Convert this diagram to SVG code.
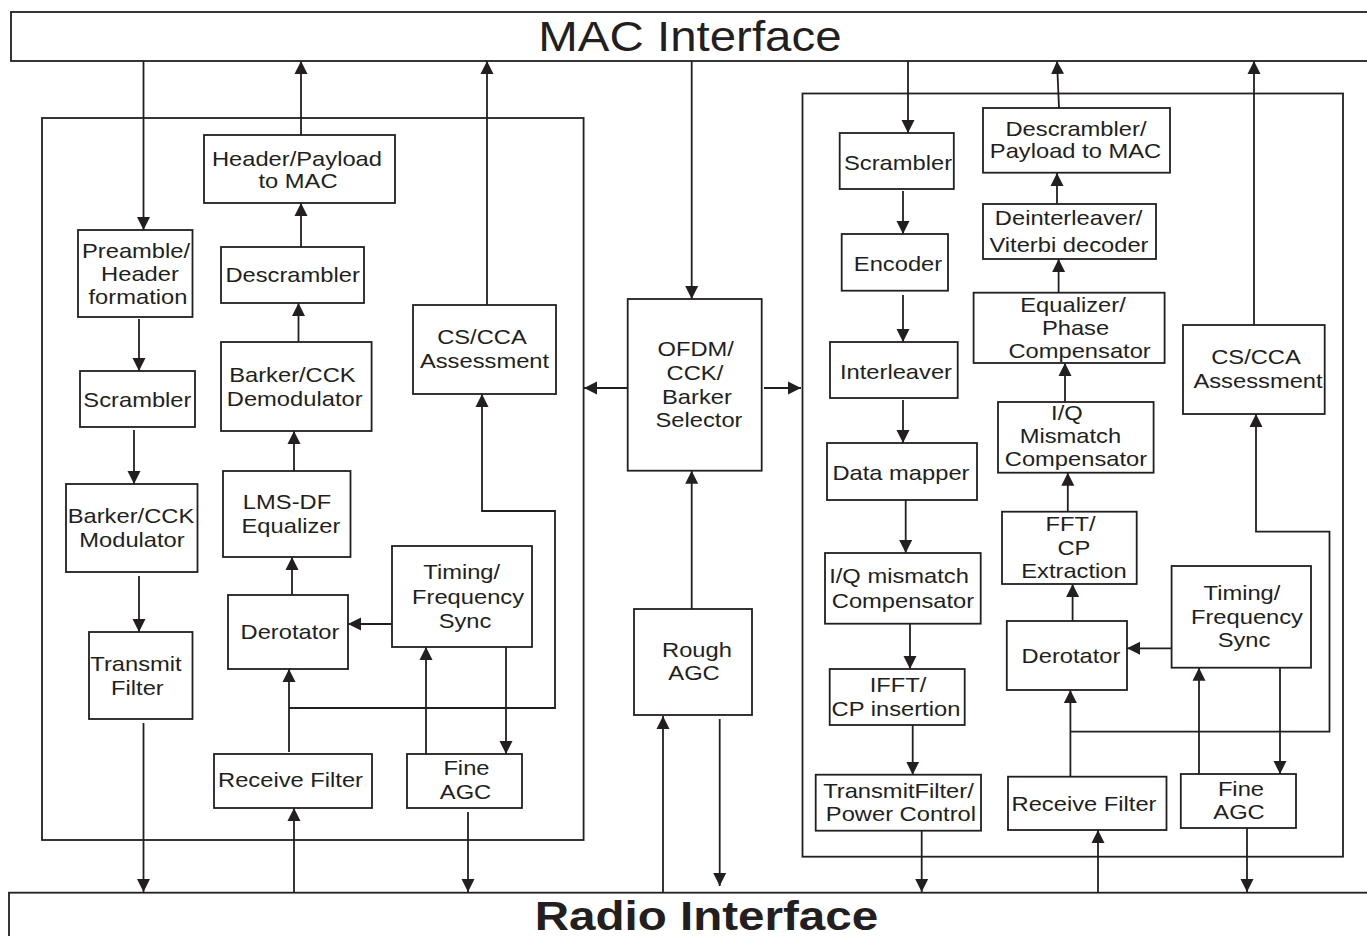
<svg xmlns="http://www.w3.org/2000/svg" width="1367" height="936" viewBox="0 0 1367 936">
<style>
rect{fill:#fff;stroke:#231f20;stroke-width:1.8}
.c line,.c polyline{stroke:#231f20;stroke-width:1.8;fill:none}
.a{marker-end:url(#ah)}
.t{font-family:"Liberation Sans",Arial,Helvetica,sans-serif;font-size:21px;fill:#231f20;text-anchor:middle}
</style>
<defs>
<marker id="ah" markerUnits="userSpaceOnUse" markerWidth="14" markerHeight="14" refX="13" refY="7" orient="auto" viewBox="0 0 14 14">
<path d="M0,0.5 L13,7 L0,13.5 z" fill="#231f20"/>
</marker>
</defs>
<rect x="0" y="0" width="1367" height="936" style="fill:#fff;stroke:none"/>
<g id="mac">
<rect x="11" y="12" width="1370" height="49"/>
<text class="t" transform="scale(1.13,1)" style="font-size:42px"><tspan x="610.6" y="50.7">MAC Interface</tspan></text>
</g>
<g id="radio">
<rect x="9" y="892.7" width="1370" height="60"/>
<text class="t" transform="scale(1.16,1)" style="font-size:41px;font-weight:bold"><tspan x="609" y="930">Radio Interface</tspan></text>
</g>
<g id="left-block"><rect x="42" y="118" width="541.6" height="722" style="fill:none"/></g>
<g id="right-block"><rect x="802.5" y="93.5" width="540.5" height="763.2" style="fill:none"/></g>

<g class="c" id="connectors">
<line class="a" x1="143.5" y1="61" x2="143.5" y2="230"/>
<line class="a" x1="139" y1="319" x2="139" y2="371"/>
<line class="a" x1="134" y1="430" x2="134" y2="484"/>
<line class="a" x1="139" y1="576" x2="139" y2="632"/>
<line class="a" x1="143.5" y1="723" x2="143.5" y2="892"/>
<line class="a" x1="301" y1="135" x2="301" y2="61"/>
<line class="a" x1="301" y1="247" x2="301" y2="203"/>
<line class="a" x1="298.5" y1="342" x2="298.5" y2="303"/>
<line class="a" x1="294" y1="471" x2="294" y2="431"/>
<line class="a" x1="292" y1="595" x2="292" y2="557"/>
<line class="a" x1="289" y1="752" x2="289" y2="669"/>
<line class="a" x1="294" y1="892" x2="294" y2="808"/>
<line class="a" x1="487" y1="305" x2="487" y2="61"/>
<polyline class="a" points="289,708 555,708 555,511 482,511 482,394"/>
<line class="a" x1="392" y1="624" x2="348" y2="624"/>
<line class="a" x1="426" y1="754" x2="426" y2="647"/>
<line class="a" x1="506" y1="647" x2="506" y2="754"/>
<line class="a" x1="468" y1="812" x2="468" y2="892"/>

<line class="a" x1="691.7" y1="61" x2="691.7" y2="299"/>
<line class="a" x1="627.7" y1="388" x2="584" y2="388"/>
<line class="a" x1="764" y1="388" x2="801" y2="388"/>
<line class="a" x1="691.7" y1="609" x2="691.7" y2="470.7"/>
<line class="a" x1="663" y1="892" x2="663" y2="716"/>
<line class="a" x1="719.7" y1="719" x2="719.7" y2="886"/>

<line class="a" x1="908" y1="61" x2="908" y2="133"/>
<line class="a" x1="903" y1="191" x2="903" y2="234"/>
<line class="a" x1="903" y1="295" x2="903" y2="342"/>
<line class="a" x1="903" y1="400" x2="903" y2="443"/>
<line class="a" x1="905.7" y1="500" x2="905.7" y2="553"/>
<line class="a" x1="910" y1="624" x2="910" y2="669"/>
<line class="a" x1="912.7" y1="725" x2="912.7" y2="774.7"/>
<line class="a" x1="921.7" y1="830.7" x2="921.7" y2="892"/>
<line class="a" x1="1059" y1="108" x2="1057" y2="61"/>
<line class="a" x1="1057" y1="204" x2="1057" y2="173"/>
<line class="a" x1="1058.6" y1="292.7" x2="1058.6" y2="259"/>
<line class="a" x1="1065" y1="405" x2="1065" y2="363"/>
<line class="a" x1="1067.8" y1="511.7" x2="1067.8" y2="472.7"/>
<line class="a" x1="1072.6" y1="621" x2="1072.6" y2="584"/>
<line class="a" x1="1070.4" y1="777" x2="1070.4" y2="690"/>
<line class="a" x1="1098" y1="892" x2="1098" y2="830"/>
<line class="a" x1="1254" y1="325" x2="1254" y2="61"/>
<polyline class="a" points="1070.4,731.7 1329.5,731.7 1329.5,531.7 1256,531.7 1256,414"/>
<line class="a" x1="1171.6" y1="648.3" x2="1127" y2="648.3"/>
<line class="a" x1="1199" y1="774" x2="1199" y2="667.7"/>
<line class="a" x1="1280" y1="667.7" x2="1280" y2="774"/>
<line class="a" x1="1247" y1="828" x2="1247" y2="892"/>
</g>

<g id="preamble"><rect x="78" y="230" width="114.5" height="87"/>
<text class="t" transform="scale(1.13,1)"><tspan x="120.4" y="258.3">Preamble/</tspan><tspan x="123.9" y="281">Header</tspan><tspan x="122.1" y="304.3">formation</tspan></text></g>
<g id="scrambler-l"><rect x="80" y="371" width="115" height="56"/>
<text class="t" transform="scale(1.13,1)"><tspan x="121.6" y="407.3">Scrambler</tspan></text></g>
<g id="modulator"><rect x="66" y="484" width="131.5" height="88"/>
<text class="t" transform="scale(1.13,1)"><tspan x="115.9" y="522.7">Barker/CCK</tspan><tspan x="116.8" y="546.7">Modulator</tspan></text></g>
<g id="transmit-filter"><rect x="89" y="632" width="103.5" height="87"/>
<text class="t" transform="scale(1.13,1)"><tspan x="120.4" y="670.7">Transmit</tspan><tspan x="121.6" y="694.7">Filter</tspan></text></g>
<g id="header-payload"><rect x="204" y="135" width="191" height="68"/>
<text class="t" transform="scale(1.13,1)"><tspan x="262.8" y="165.7">Header/Payload</tspan><tspan x="263.7" y="188.3">to MAC</tspan></text></g>
<g id="descrambler-l"><rect x="221" y="247" width="143" height="56"/>
<text class="t" transform="scale(1.13,1)"><tspan x="259" y="281.7">Descrambler</tspan></text></g>
<g id="demodulator"><rect x="221" y="342" width="150.6" height="89"/>
<text class="t" transform="scale(1.13,1)"><tspan x="258.8" y="381.7">Barker/CCK</tspan><tspan x="260.8" y="406">Demodulator</tspan></text></g>
<g id="lms"><rect x="223" y="471" width="127.5" height="86"/>
<text class="t" transform="scale(1.13,1)"><tspan x="254" y="509.3">LMS-DF</tspan><tspan x="257.5" y="532.7">Equalizer</tspan></text></g>
<g id="derotator-l"><rect x="228" y="595" width="120" height="74"/>
<text class="t" transform="scale(1.13,1)"><tspan x="256.6" y="638.7">Derotator</tspan></text></g>
<g id="timing-l"><rect x="392" y="546" width="140" height="101"/>
<text class="t" transform="scale(1.13,1)"><tspan x="408.6" y="579.3">Timing/</tspan><tspan x="414.2" y="604">Frequency</tspan><tspan x="411.5" y="627.7">Sync</tspan></text></g>
<g id="cscca-l"><rect x="413" y="305" width="143" height="89"/>
<text class="t" transform="scale(1.13,1)"><tspan x="426.5" y="344.3">CS/CCA</tspan><tspan x="428.8" y="368.3">Assessment</tspan></text></g>
<g id="receive-l"><rect x="214" y="754" width="158" height="54"/>
<text class="t" transform="scale(1.13,1)"><tspan x="257.1" y="787.3">Receive Filter</tspan></text></g>
<g id="fineagc-l"><rect x="407" y="754" width="115" height="54"/>
<text class="t" transform="scale(1.13,1)"><tspan x="412.8" y="775.3">Fine</tspan><tspan x="412" y="799.3">AGC</tspan></text></g>

<g id="selector"><rect x="627.7" y="299" width="134" height="171.7"/>
<text class="t" transform="scale(1.13,1)"><tspan x="615.7" y="356">OFDM/</tspan><tspan x="615" y="380">CCK/</tspan><tspan x="616.8" y="404">Barker</tspan><tspan x="618.6" y="427.3">Selector</tspan></text></g>
<g id="rough-agc"><rect x="634" y="609" width="118" height="106"/>
<text class="t" transform="scale(1.13,1)"><tspan x="616.8" y="657.3">Rough</tspan><tspan x="614.2" y="680">AGC</tspan></text></g>

<g id="scrambler-r"><rect x="839.7" y="133" width="114.1" height="56"/>
<text class="t" transform="scale(1.13,1)"><tspan x="794.7" y="170">Scrambler</tspan></text></g>
<g id="encoder"><rect x="841.7" y="234" width="106.3" height="56.7"/>
<text class="t" transform="scale(1.13,1)"><tspan x="794.7" y="270.7">Encoder</tspan></text></g>
<g id="interleaver"><rect x="830" y="342" width="127.7" height="56"/>
<text class="t" transform="scale(1.13,1)"><tspan x="792.9" y="379">Interleaver</tspan></text></g>
<g id="data-mapper"><rect x="827" y="443" width="150" height="57"/>
<text class="t" transform="scale(1.13,1)"><tspan x="797.3" y="480">Data mapper</tspan></text></g>
<g id="iq-tx"><rect x="825" y="553" width="155.7" height="70.7"/>
<text class="t" transform="scale(1.13,1)"><tspan x="795.6" y="583.3">I/Q mismatch</tspan><tspan x="799.1" y="607.7">Compensator</tspan></text></g>
<g id="ifft"><rect x="829.7" y="669" width="135" height="56"/>
<text class="t" transform="scale(1.13,1)"><tspan x="794.7" y="692.3">IFFT/</tspan><tspan x="792.9" y="716">CP insertion</tspan></text></g>
<g id="tx-filter-r"><rect x="815.7" y="774.7" width="165.3" height="56"/>
<text class="t" transform="scale(1.13,1)"><tspan x="795.1" y="797.7">TransmitFilter/</tspan><tspan x="797.3" y="821">Power Control</tspan></text></g>
<g id="descrambler-r"><rect x="983" y="108" width="187" height="64.7"/>
<text class="t" transform="scale(1.13,1)"><tspan x="952.2" y="136">Descrambler/</tspan><tspan x="951.8" y="157.7">Payload to MAC</tspan></text></g>
<g id="deinterleaver"><rect x="983" y="204" width="173" height="55"/>
<text class="t" transform="scale(1.13,1)"><tspan x="945.7" y="225">Deinterleaver/</tspan><tspan x="946" y="251.7">Viterbi decoder</tspan></text></g>
<g id="equalizer"><rect x="973.6" y="292.7" width="191" height="70.3"/>
<text class="t" transform="scale(1.13,1)"><tspan x="949.6" y="311.7">Equalizer/</tspan><tspan x="951.8" y="335">Phase</tspan><tspan x="955.4" y="358.3">Compensator</tspan></text></g>
<g id="iq-rx"><rect x="998" y="402" width="155.6" height="70.7"/>
<text class="t" transform="scale(1.13,1)"><tspan x="944.2" y="420">I/Q</tspan><tspan x="947.3" y="443.3">Mismatch</tspan><tspan x="952.2" y="466">Compensator</tspan></text></g>
<g id="cscca-r"><rect x="1183" y="325" width="141.7" height="89"/>
<text class="t" transform="scale(1.13,1)"><tspan x="1111.5" y="364">CS/CCA</tspan><tspan x="1113.3" y="388.3">Assessment</tspan></text></g>
<g id="fft"><rect x="1002" y="511.7" width="134.7" height="72.3"/>
<text class="t" transform="scale(1.13,1)"><tspan x="947.4" y="531">FFT/</tspan><tspan x="950.4" y="555">CP</tspan><tspan x="950.4" y="578.3">Extraction</tspan></text></g>
<g id="derotator-r"><rect x="1006.8" y="621" width="120.2" height="69"/>
<text class="t" transform="scale(1.13,1)"><tspan x="947.8" y="662.7">Derotator</tspan></text></g>
<g id="timing-r"><rect x="1171.6" y="566" width="139.4" height="101.7"/>
<text class="t" transform="scale(1.13,1)"><tspan x="1099.1" y="600">Timing/</tspan><tspan x="1103.5" y="624">Frequency</tspan><tspan x="1100.9" y="647.3">Sync</tspan></text></g>
<g id="receive-r"><rect x="1008" y="776.7" width="158.5" height="53.3"/>
<text class="t" transform="scale(1.13,1)"><tspan x="959.3" y="810.7">Receive Filter</tspan></text></g>
<g id="fineagc-r"><rect x="1180.8" y="774" width="115.2" height="54"/>
<text class="t" transform="scale(1.13,1)"><tspan x="1098.2" y="796">Fine</tspan><tspan x="1096.5" y="819.3">AGC</tspan></text></g>
</svg>
